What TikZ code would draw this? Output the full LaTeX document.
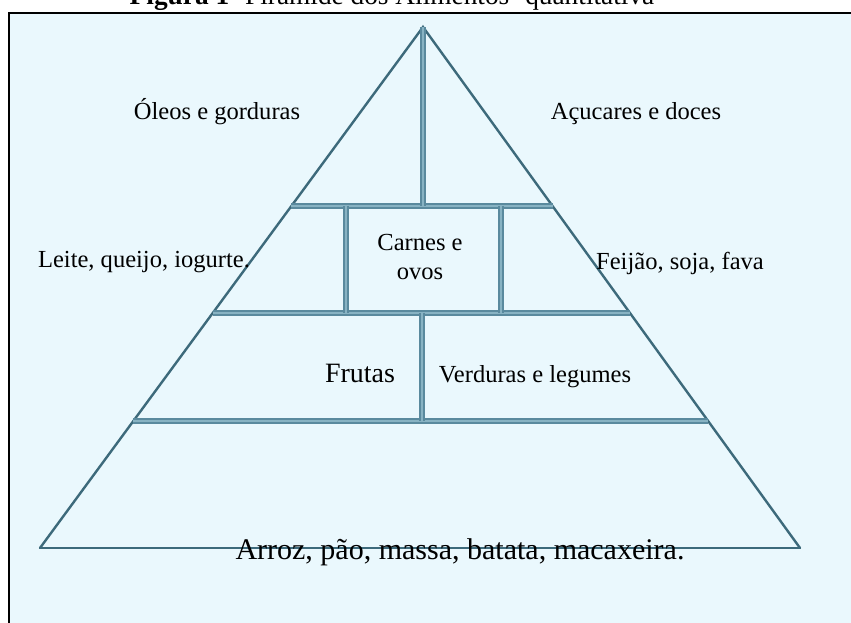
\documentclass[tikz,border=0pt]{standalone}
\usepackage{fontspec}
\setmainfont{Liberation Serif}
\usepackage{tikz}
\usetikzlibrary{positioning}
\definecolor{skyfill}{HTML}{EAF8FD}
\definecolor{barblue}{HTML}{5A8A9E}
\definecolor{barlight}{HTML}{88B3C3}
\definecolor{sideblue}{HTML}{3D6A7B}
\tikzset{
  bar/.style={draw=barblue, line width=4.5pt},
  barhi/.style={draw=barlight, line width=1.2pt},
  side/.style={draw=sideblue, line width=1.8pt, line cap=round},
  food/.style={inner sep=0pt, anchor=base, font=\fontsize{18.4}{22}\selectfont},
  bigfood/.style={food, font=\fontsize{21}{25}\selectfont}
}

\begin{document}
\begin{tikzpicture}[x=0.75pt, y=-0.75pt]
    % Fix the page to the size of the picture.
    \clip (0,0) rectangle (851,623);
    \fill[white] (0,0) rectangle (851,623);
    % Draw the title, which is cut off at the top.
    \node[food, font=\fontsize{20.5}{24}\selectfont] (title) at (392,5) {\textbf{Figura 1}- Pirâmide dos Alimentos- quantitativa};
    % Draw the frame and its light blue background.
    \fill[skyfill] (9,13) rectangle (851,623);
    \draw[line width=2.2pt] (9,623) -- (9,13) -- (851,13);

    % Corners of the pyramid and its rows.
    \coordinate (apex) at (423,27);
    \coordinate (r1l) at (291,206);  \coordinate (r1r) at (553,206);
    \coordinate (r2l) at (213,313);  \coordinate (r2r) at (630,313);
    \coordinate (r3l) at (133,421);  \coordinate (r3r) at (708,421);
    \coordinate (bl) at (40,548);    \coordinate (br) at (800,548);

    % Draw the sides and the base.
    \draw[side] (bl) -- (apex) -- (br);
    \draw[side] (bl) -- (br);

    % Draw the bars between the rows.
    \foreach \l/\r in {r1l/r1r, r2l/r2r, r3l/r3r} {
      \draw[bar] (\l) -- (\r);
      \draw[barhi] (\l) -- (\r);
    }
    % Draw the dividers inside the rows.
    \coordinate (t1) at (423,206);
    \coordinate (c1) at (346,206);  \coordinate (c2) at (346,313);
    \coordinate (d1) at (501,206);  \coordinate (d2) at (501,313);
    \coordinate (m1) at (422,313);  \coordinate (m2) at (422,421);
    \foreach \a/\b in {apex/t1, c1/c2, d1/d2, m1/m2} {
      \draw[bar, line width=3.8pt] (\a) -- (\b);
      \draw[barhi, line width=1pt] (\a) -- (\b);
    }

    % Write the food groups.
    \node[food] (oleos) at (217,120) {Óleos e gorduras};
    \node[food] (acucares) at (636,120) {Açucares e doces};
    \node[food] (leite) at (144,268) {Leite, queijo, iogurte.};
    \node[food, align=center, anchor=center] (carnes) at (420,257) {Carnes e\\ovos};
    \node[food] (feijao) at (680,270) {Feijão, soja, fava};
    \node[bigfood] (frutas) at (360,383) {Frutas};
    \node[food] (verduras) at (535,383) {Verduras e legumes};
    \node[bigfood, font=\fontsize{22.5}{26}\selectfont] (arroz) at (460,560) {Arroz, pão, massa, batata, macaxeira.};
  \end{tikzpicture}
\end{document}
